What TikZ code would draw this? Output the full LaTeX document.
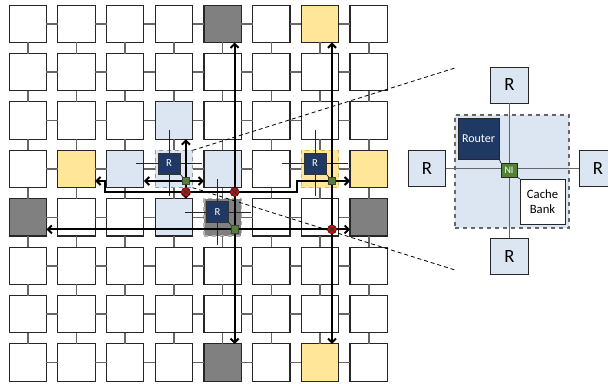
\documentclass[tikz,border=0pt]{standalone}
\usepackage{fontspec}
\setmainfont{Carlito}
\usetikzlibrary{arrows.meta,positioning,calc}

\definecolor{tileblue}{RGB}{220,230,242}
\definecolor{tileyel}{RGB}{255,230,153}
\definecolor{tilegray}{RGB}{128,128,128}
\definecolor{rtblue}{RGB}{31,56,100}
\definecolor{nigreen}{RGB}{84,130,53}
\definecolor{xred}{RGB}{200,16,16}

\begin{document}
\begin{tikzpicture}[x=0.75pt,y=-0.75pt,
  tile/.style={draw=black!85, line width=0.85pt, fill=white, minimum size=28pt,
               inner sep=0pt, outer sep=0pt},
  % colours of single tiles
  tile 0-4/.style={fill=tilegray}, tile 0-6/.style={fill=tileyel},
  tile 7-4/.style={fill=tilegray}, tile 7-6/.style={fill=tileyel},
  tile 2-3/.style={fill=tileblue}, tile 4-3/.style={fill=tileblue},
  tile 3-2/.style={fill=tileblue}, tile 3-4/.style={fill=tileblue},
  tile 3-1/.style={fill=tileyel},  tile 3-7/.style={fill=tileyel},
  tile 4-0/.style={fill=tilegray}, tile 4-7/.style={fill=tilegray},
  tile 3-3/.style={fill=tileblue, draw=black!40, dashed},
  tile 3-6/.style={fill=tileyel, draw=yellow!40!brown, dashed},
  tile 4-4/.style={fill=tilegray, draw=black!30, dashed},
  link/.style={black!60, line width=1.2pt},
  hop/.style={black!85, line width=0.55pt},
  rt/.style={draw=black!80, fill=rtblue, minimum width=16.5pt, minimum height=15.5pt,
             inner sep=0pt, text=white, font=\fontsize{8}{8}\selectfont},
  ni/.style={draw=black!75, fill=nigreen, minimum size=5.6pt, inner sep=0pt},
  arr/.style={line width=1.5pt, -{Straight Barb[length=3pt,width=6pt]}},
  bus/.style={arr, {Straight Barb[length=3pt,width=6pt]}-{Straight Barb[length=3pt,width=6pt]}},
  blocked/.style={circle, fill=xred, draw=red!40!black, line width=0.4pt,
                  minimum size=6.8pt, inner sep=0pt,
                  path picture={\draw[black!80, line width=0.7pt]
                    (path picture bounding box.north west) -- (path picture bounding box.south east)
                    (path picture bounding box.north east) -- (path picture bounding box.south west);}},
  zoomln/.style={black, line width=0.6pt, dash pattern=on 3pt off 2.2pt},
  rbox/.style={draw=black!85, line width=0.7pt, fill=tileblue, minimum width=28pt,
               minimum height=27pt, inner sep=0pt, font=\fontsize{14}{14}\selectfont},
  dlink/.style={black!60, line width=1pt}]
\useasboundingbox (0,0) rectangle (608,384);

% ---- the 8x8 mesh of tiles ----
\foreach \r in {0,...,7} {
  \foreach \c in {0,...,7}
    \node[tile, tile \r-\c/.try] (t-\r-\c) at (27.8+48.7*\c, 23.8+48.4*\r) {};
}
\foreach \r in {0,...,7} {
  \foreach \c [evaluate=\c as \cn using int(\c+1)] in {0,...,6} {
    \draw[link] (t-\r-\c.east) -- (t-\r-\cn.west);
    \draw[link] (t-\c-\r.south) -- (t-\cn-\r.north);
  }
}

% ---- zoom lines to the detail view ----
\coordinate (zt) at (455,68);
\coordinate (zb) at (455,270);
\draw[zoomln] (t-3-3.north east) -- (zt);
\draw[zoomln] (t-3-3.south east) -- (zb);

% ---- routers inside the marked tiles ----
\foreach \r/\c in {3/3, 4/4, 3/6} {
  \coordinate (rc\r\c) at ($(t-\r-\c)+(-5,-5.5)$);
  \coordinate (nc\r\c) at ($(t-\r-\c)+(12,12)$);
  \draw[hop] ($(rc\r\c)+(-33,0)$) -- ($(rc\r\c)+(33,0)$);
  \draw[hop] ($(rc\r\c)+(0,-33)$) -- ($(rc\r\c)+(0,33)$);
  \node[rt] (rt\r\c) at (rc\r\c) {R};
  \draw[hop] (rt\r\c.south east) -- (nc\r\c);
}

% ---- flows ----
\coordinate (gap34) at (0,192);
\coordinate (detour) at (105,192);
\coordinate (rejoin) at (297,192);
\draw[arr] (nc33) -- (nc33 |- t-2-3.south);
\draw[arr] (nc33) -- (t-3-2.east |- nc33);
\draw[arr] (nc33) -- (t-3-4.west |- nc33);
\draw[arr] (nc33) -- (nc33 |- t-4-3.north);
\draw[bus] (t-0-4.south -| nc44) -- (t-7-4.north -| nc44);
\draw[bus] (t-0-6.south -| nc36) -- (t-7-6.north -| nc36);
\draw[bus] (t-4-0.east |- nc44) -- (t-4-7.west |- nc44);
\draw[bus] (t-3-1.east |- nc36) -| (detour) -- (rejoin) |- (t-3-7.west |- nc36);
\foreach \r/\c in {3/3, 4/4, 3/6}
  \node[ni] (ni\r\c) at (nc\r\c) {};
\node[blocked] (x1) at (ni33 |- gap34) {};
\node[blocked] (x2) at (ni44 |- gap34) {};
\node[blocked] (x3) at (ni36 |- ni44) {};

% ---- detail view of one tile ----
\node[draw=black!60, dashed, line width=0.8pt, fill=tileblue, minimum width=85.5pt,
      minimum height=84.75pt, inner sep=0pt] (tilebox) at (512,171.5) {};
\node[rbox] (rN) at (509.5,85) {R};
\node[rbox] (rW) at (427,168.5) {R};
\node[rbox] (rE) at (598,168.5) {R};
\node[rbox] (rS) at (509.5,256.5) {R};
\draw[dlink] (rN) -- (rS);
\draw[dlink] (rW) -- (rE);
\node[draw=black!85, fill=rtblue, minimum size=30.75pt, inner sep=0pt, text=white,
      font=\fontsize{9}{9}\selectfont] (router) at (478.5,138.5) {Router};
\node[draw=black!85, fill=white, minimum size=33.75pt, inner sep=0pt, align=center,
      font=\fontsize{9.5}{11.5}\selectfont] (cache) at (542.5,201.5) {Cache\\Bank};
\node[draw=black!85, fill=nigreen, minimum width=12pt, minimum height=10.5pt, inner sep=0pt,
      text=white, font=\fontsize{7.5}{7.5}\selectfont] (nibig) at (509,170) {NI};
\draw[hop] (router.south east) -- (nibig.north west);
\draw[hop] (nibig.south east) -- (cache.north west);
\end{tikzpicture}
\end{document}
